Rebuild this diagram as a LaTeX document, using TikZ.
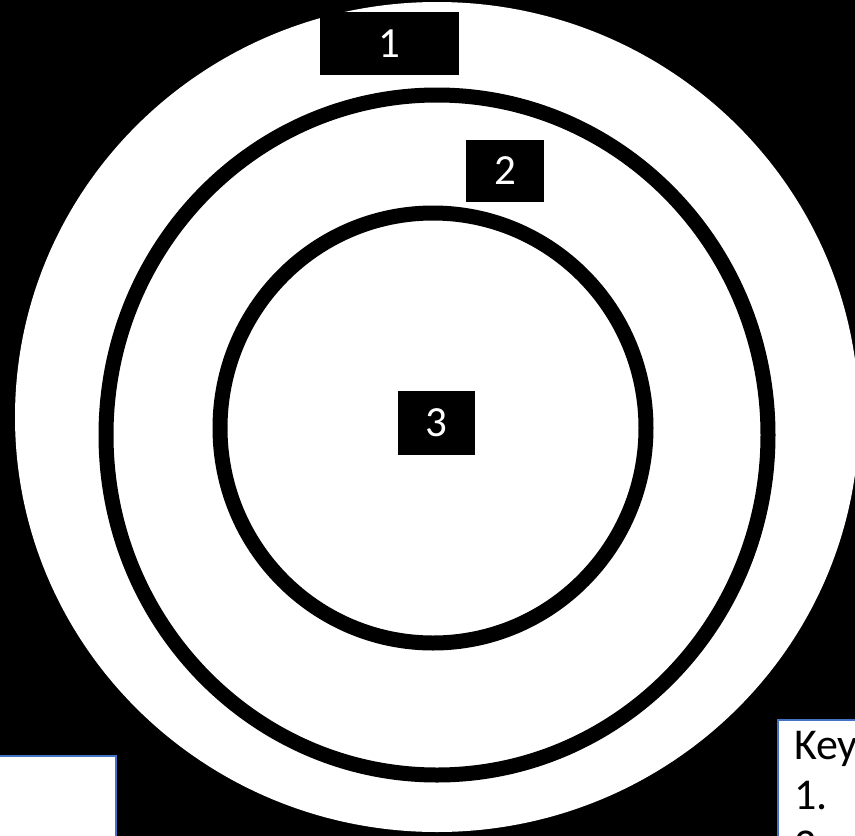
\documentclass[tikz,border=0pt]{standalone}
\usepackage{fontspec}
\setmainfont{Carlito}
\usepackage{tikz}
\usepackage{xcolor}
\definecolor{keyblue}{RGB}{68,114,196}

\begin{document}
\begin{tikzpicture}[x=1pt, y=-1pt,
    numbox/.style={fill=black, text=white, inner sep=0pt, font=\fontsize{43}{50}\selectfont},
    ring/.style={draw=black, line width=15pt},
    keytext/.style={anchor=base west, inner sep=0pt, font=\fontsize{44}{52}\selectfont}]
    \useasboundingbox (0, 0) rectangle (855, 836);
    \clip (0, 0) rectangle (855, 836);

    % background and rings
    \fill[black] (0, 0) rectangle (855, 836);
    \fill[white] (437, 417) ellipse [x radius=422, y radius=415];
    \draw[ring] (437, 435) ellipse [x radius=331, y radius=340];
    \draw[ring] (433, 428) ellipse [x radius=213, y radius=215];

    % numbered labels
    \node[numbox, minimum width=139pt, minimum height=63pt] at (389.5, 43.5) (one) {1};
    \node[numbox, minimum width=78pt, minimum height=62pt] at (505, 171) (two) {2};
    \node[numbox, minimum width=77pt, minimum height=64pt] at (436.5, 423) (three) {3};

    % boxes at the bottom
    \draw[keyblue, line width=2pt, fill=white] (-5, 756) rectangle (116, 845);
    \draw[keyblue, line width=2pt, fill=white] (778, 720) rectangle (865, 845);

    % key
    \node[keytext] at (794, 759) (key) {Key};
    \node[keytext] at (794, 809) (keyone) {1.};
    \node[keytext] at (794, 859) (keytwo) {2.};
\end{tikzpicture}
\end{document}
